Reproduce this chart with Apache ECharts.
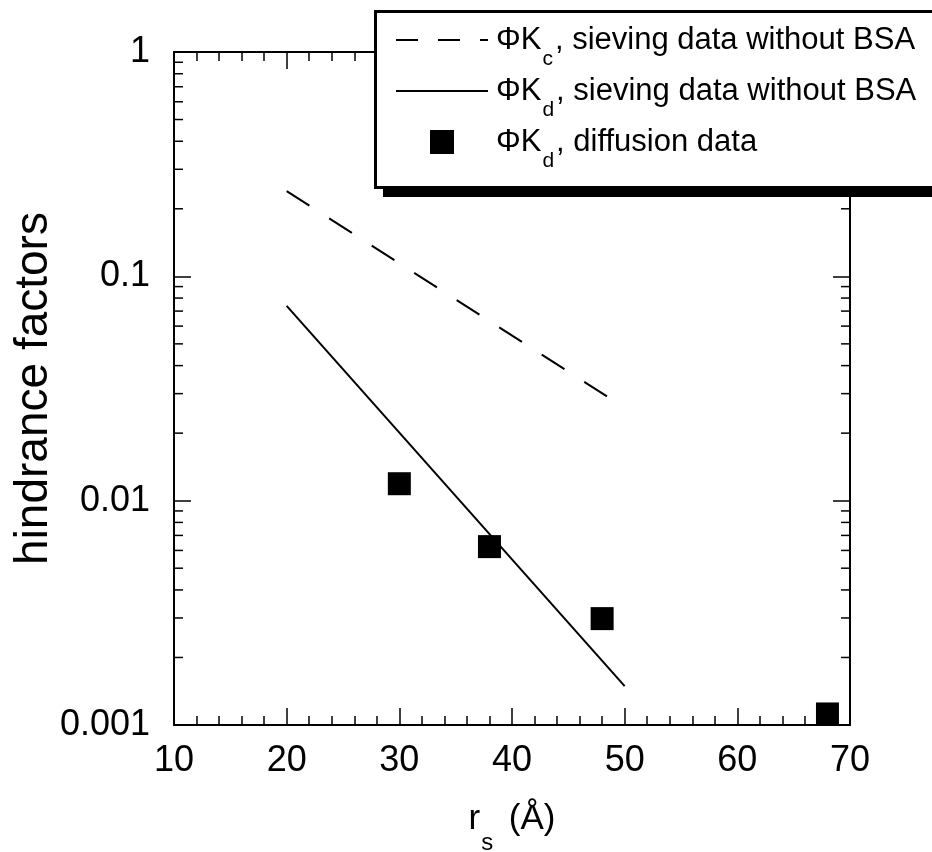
<!DOCTYPE html>
<html>
<head>
<meta charset="utf-8">
<script src="https://cdn.jsdelivr.net/npm/echarts@6/dist/echarts.min.js"></script>
<style>
  html, body { margin: 0; padding: 0; background: #fff; }
  #chart { width: 932px; height: 852px; }
</style>
</head>
<body>
<div id="chart"></div>
<script>
// Hydrodynamic hindrance factors vs. solute radius
const xTickLabels = ['10', '20', '30', '40', '50', '60', '70'];
const yTickLabels = ['0.001', '0.01', '0.1', '1'];

// Correlation lines (straight on a log scale, so two end points each)
const kcSievingR = [20, 48.5];
const kcSievingVal = [0.24, 0.029];
const kdSievingR = [20, 50];
const kdSievingVal = [0.0738, 0.00149];

// Measured diffusion data
const diffR = [30, 38, 48, 68];
const diffVal = [0.0119, 0.00624, 0.00298, 0.00112];

// Minor tick values for the log axis (2..9 per decade)
const yMinor = [];
[0.001, 0.01, 0.1].forEach(d => { for (let k = 2; k <= 9; k++) yMinor.push(+(d * k).toPrecision(3)); });

const FONT = '"Liberation Sans", Arial, Helvetica, sans-serif';
const NAME_KC = 'Kc sieving';
const NAME_KD = 'Kd sieving';
const NAME_DIFF = 'Kd diffusion';

const legendText = {};
legendText[NAME_KC] = '{t|ΦK}{sub|c}{t|, sieving data without BSA}';
legendText[NAME_KD] = '{t|ΦK}{sub|d}{t|, sieving data without BSA}';
legendText[NAME_DIFF] = '{t|ΦK}{sub|d}{t|, diffusion data}';

const X_MIN = 10, X_MAX = 70;

const tickStyle = { color: '#000', width: 1.5 };

function xAxisCfg(pos, showLabel) {
  return {
    type: 'value', position: pos, min: X_MIN, max: X_MAX, interval: 10,
    axisLine: { show: true, onZero: false, lineStyle: { color: '#000', width: 2 } },
    axisTick: { show: true, inside: true, length: 17, lineStyle: tickStyle },
    minorTick: { show: true, splitNumber: 5, length: 9, lineStyle: tickStyle },
    splitLine: { show: false },
    axisLabel: {
      show: showLabel, margin: 18, color: '#000', fontSize: 36, fontFamily: FONT,
      formatter: v => xTickLabels[Math.round((v - X_MIN) / 10)]
    }
  };
}
function yAxisCfg(pos, showLabel) {
  return {
    type: 'log', logBase: 10, position: pos, min: 0.001, max: 1,
    axisLine: { show: true, onZero: false, lineStyle: { color: '#000', width: 2 } },
    axisTick: { show: true, inside: true, length: 17, lineStyle: tickStyle },
    minorTick: { show: false },
    splitLine: { show: false },
    axisLabel: {
      show: showLabel, margin: 24, color: '#000', fontSize: 36, fontFamily: FONT,
      formatter: v => yTickLabels[Math.round(Math.log10(v) + 3)]
    }
  };
}

const xs = [xAxisCfg('bottom', true), xAxisCfg('top', false)];
xs[0].name = '{m|r}{sub|s}{m| (Å)}';
xs[0].nameLocation = 'middle';
xs[0].nameGap = 73;
xs[0].nameTextStyle = {
  color: '#000', fontSize: 35, fontFamily: FONT,
  rich: {
    m: { fontSize: 35, lineHeight: 35, fontFamily: FONT, color: '#000' },
    sub: { fontSize: 24, lineHeight: 12, fontFamily: FONT, color: '#000', padding: [47, 6, 0, 1] }
  }
};
const ys = [yAxisCfg('left', true), yAxisCfg('right', false)];
ys[0].name = 'hindrance factors';
ys[0].nameLocation = 'middle';
ys[0].nameMoveOverlap = false;
ys[0].nameGap = 117;
ys[0].nameTextStyle = { color: '#000', fontSize: 46, fontFamily: FONT };

const chart = echarts.init(document.getElementById('chart'), null, { renderer: 'canvas' });
chart.setOption({
  animation: false,
  backgroundColor: '#fff',
  color: ['#000', '#000', '#000'],
  grid: { left: 174, right: 82, top: 52, bottom: 127, containLabel: false, outerBoundsMode: 'none' },
  xAxis: xs,
  yAxis: ys,
  // legend frame with a hard drop shadow, drawn over the plot frame
  graphic: [
    { type: 'rect', z: 5, silent: true, shape: { x: 383, y: 19, width: 620, height: 178 }, style: { fill: '#000' } },
    { type: 'rect', z: 6, silent: true, shape: { x: 375.5, y: 11.5, width: 620, height: 176 }, style: { fill: '#fff', stroke: '#000', lineWidth: 3 } }
  ],
  legend: {
    z: 10,
    data: [
      { name: NAME_KC, itemStyle: { opacity: 0 }, lineStyle: { type: [22, 20] } },
      { name: NAME_KD, itemStyle: { opacity: 0 } },
      { name: NAME_DIFF }
    ],
    orient: 'vertical',
    left: 395, top: 10,
    padding: 0,
    itemWidth: 92, itemHeight: 30, itemGap: -9,
    selectedMode: false,
    formatter: name => legendText[name],
    textStyle: {
      color: '#000', fontSize: 31, fontFamily: FONT, padding: [0, 0, 0, 3],
      rich: {
        t: { fontSize: 31, lineHeight: 31, fontFamily: FONT, color: '#000' },
        sub: { fontSize: 21, lineHeight: 21, fontFamily: FONT, color: '#000', padding: [39, 2, 0, 1] }
      }
    }
  },
  series: [
    {
      name: NAME_KC, type: 'line', symbol: 'none',
      lineStyle: { color: '#000', width: 2, type: [27, 23.5] },
      data: kcSievingR.map((r, i) => [r, kcSievingVal[i]])
    },
    {
      name: NAME_KD, type: 'line', symbol: 'none',
      lineStyle: { color: '#000', width: 2, type: 'solid' },
      data: kdSievingR.map((r, i) => [r, kdSievingVal[i]])
    },
    {
      // unconnected square markers
      name: NAME_DIFF, type: 'line', symbol: 'rect', symbolSize: 23, showSymbol: true,
      lineStyle: { width: 0, opacity: 0 },
      itemStyle: { color: '#000', opacity: 1 },
      data: diffR.map((r, i) => [r, diffVal[i]]),
      clip: false
    },
    {
      // minor ticks on the left and right log axes
      type: 'custom', silent: true, clip: false,
      data: yMinor.map(v => [X_MIN, v]),
      renderItem: (params, api) => {
        const v = api.value(1);
        const l = api.coord([X_MIN, v]);
        const r = api.coord([X_MAX, v]);
        const st = { stroke: '#000', lineWidth: 1.5 };
        return {
          type: 'group',
          children: [
            { type: 'line', shape: { x1: l[0], y1: l[1], x2: l[0] + 9, y2: l[1] }, style: st },
            { type: 'line', shape: { x1: r[0], y1: r[1], x2: r[0] - 9, y2: r[1] }, style: st }
          ]
        };
      }
    }
  ]
});
</script>
</body>
</html>
